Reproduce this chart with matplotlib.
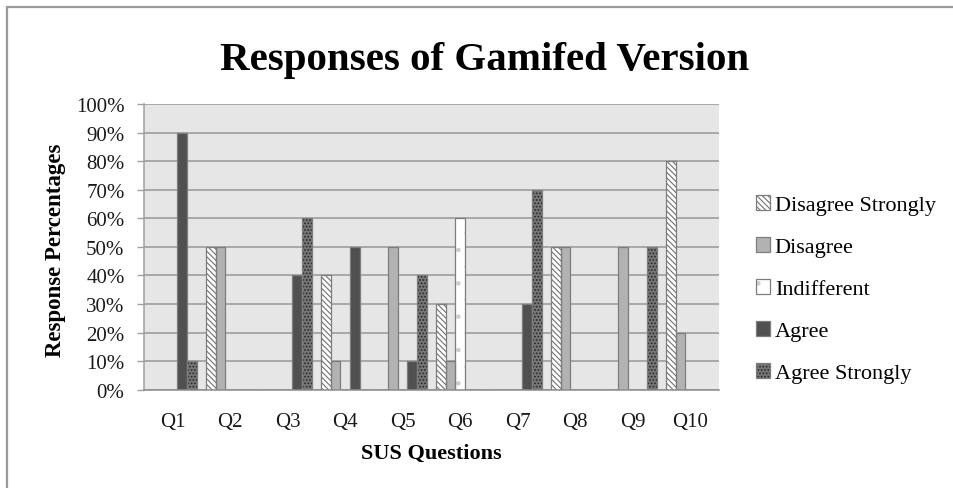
import numpy as np
import matplotlib
matplotlib.use("Agg")
import matplotlib.pyplot as plt
from matplotlib.patches import Rectangle, Patch

# SUS questionnaire responses (percent of participants) for the gamified version
questions = ["Q1", "Q2", "Q3", "Q4", "Q5", "Q6", "Q7", "Q8", "Q9", "Q10"]
series_names = ["Disagree Strongly", "Disagree", "Indifferent", "Agree", "Agree Strongly"]
disagree_strongly = [0, 50, 0, 40, 0, 30, 0, 50, 0, 80]
disagree = [0, 50, 0, 10, 50, 10, 0, 50, 50, 20]
indifferent = [0, 0, 0, 0, 0, 60, 0, 0, 0, 0]
agree = [90, 0, 40, 50, 10, 0, 30, 0, 0, 0]
agree_strongly = [10, 0, 60, 0, 40, 0, 70, 0, 50, 0]
y_ticks = [0, 10, 20, 30, 40, 50, 60, 70, 80, 90, 100]
y_tick_labels = ["0%", "10%", "20%", "30%", "40%", "50%", "60%", "70%", "80%", "90%", "100%"]

series_values = [disagree_strongly, disagree, indifferent, agree, agree_strongly]

# fill colour, hatch pattern, hatch colour for each response level
styles = [
    dict(face="#ffffff", hatch="\\" * 6, hcolor="#707070"),
    dict(face="#b2b2b2", hatch=None, hcolor="#b2b2b2"),
    dict(face="#ffffff", hatch=".", hcolor="#cdcdcd"),
    dict(face="#505050", hatch=None, hcolor="#505050"),
    dict(face="#767676", hatch=".....", hcolor="#262626"),
]
outline = "#7d7d7d"

FONT = "Liberation Serif"
plt.rcParams["font.family"] = [FONT, "DejaVu Serif"]
plt.rcParams["hatch.linewidth"] = 0.8

fig = plt.figure(figsize=(9.54, 4.89), dpi=100)
ax = fig.add_axes([0.1509, 0.2010, 0.6027, 0.5842])
ax.set_facecolor("#e6e6e6")

x = np.arange(len(questions))
width = 1.0 / 6.0
offsets = (np.arange(len(series_names)) - 2) * width

handles = []
for vals, name, st, off in zip(series_values, series_names, styles, offsets):
    ax.bar(x + off, vals, width, color=st["face"], hatch=st["hatch"],
           edgecolor=st["hcolor"], linewidth=0, zorder=2)
    ax.bar(x + off, vals, width, fill=False, edgecolor=outline,
           linewidth=0.9, zorder=3)
    handles.append((Patch(facecolor=st["face"], hatch=st["hatch"],
                          edgecolor=st["hcolor"], linewidth=0),
                    Patch(fill=False, edgecolor=outline, linewidth=0.9)))

ax.set_xlim(-0.5, len(questions) - 0.5)
ax.set_ylim(0, 100)
ax.set_xticks(x)
ax.set_xticklabels(questions, fontsize=15)
ax.set_yticks(y_ticks)
ax.set_yticklabels(y_tick_labels, fontsize=15)

ax.set_axisbelow(True)
ax.yaxis.grid(True, color="#a3a3a3", linewidth=1.3, zorder=0)
ax.xaxis.grid(False)

for side in ("top", "right"):
    ax.spines[side].set_visible(False)
ax.spines["left"].set_color("#a0a0a0")
ax.spines["left"].set_linewidth(1.1)
ax.spines["bottom"].set_color("#8c8c8c")
ax.spines["bottom"].set_linewidth(1.1)
ax.spines["bottom"].set_zorder(4)

ax.tick_params(axis="y", direction="out", length=5, width=1.0, color="#a0a0a0",
               pad=9, labelcolor="#1a1a1a")
ax.tick_params(axis="x", length=0, pad=16, labelcolor="#1a1a1a")

ax.set_xlabel("SUS Questions", fontsize=16, fontweight="bold")
ax.xaxis.set_label_coords(0.499, -0.220)
ax.xaxis.label.set_va("center")
ax.set_ylabel("Response Percentages", fontsize=16.5, fontweight="bold")
ax.yaxis.set_label_coords(-0.153, 0.4925)
ax.yaxis.label.set_va("center")

ax.set_title("Responses of Gamifed Version", fontsize=29.5, fontweight="bold",
             x=0.593, y=1.1575, va="center", pad=0)

fig.legend(handles, series_names, loc="center left",
           bbox_to_anchor=(747 / 954, 1 - 290 / 489), frameon=False,
           fontsize=16, handlelength=0.65, handleheight=0.65,
           handletextpad=0.2, labelspacing=0.98, borderaxespad=0)

# outer chart frame (top and left edges fall inside the canvas)
fig.add_artist(Rectangle((7.5 / 954, -0.5), 2.0, 481.5 / 489 + 0.5,
                         transform=fig.transFigure, fill=False,
                         edgecolor="#9a9a9a", linewidth=1.6))

fig.savefig("out.png", dpi=100, facecolor="white")
